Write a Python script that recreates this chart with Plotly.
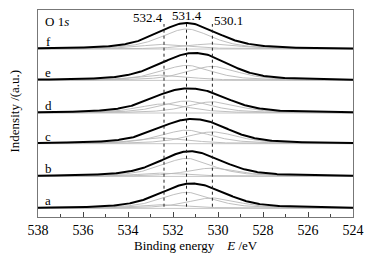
import numpy as np
import plotly.graph_objects as go

# ---- data ----
labels = ["a", "b", "c", "d", "e", "f"]
baselines = [8.6, 40.6, 73.3, 104.0, 136.6, 168.0]     # vertical offset of each spectrum (a.u.)
peak_centers = [532.4, 531.4, 530.25]                   # eV, component positions (dotted lines)
peak_labels = ["532.4", "531.4", "530.1"]
heights_a = [3.7, 16.0, 10.4]
heights_b = [3.3, 18.0, 8.3]
heights_c = [6.0, 13.5, 11.8]
heights_d = [9.1, 12.0, 11.2]
heights_e = [5.3, 15.0, 14.0]
heights_f = [4.6, 20.0, 5.2]
all_heights = [heights_a, heights_b, heights_c, heights_d, heights_e, heights_f]
peak_fwhm = 2.7      # eV, fitted component width
peak_eta = 0.6       # Lorentzian fraction of the fitted pseudo-Voigt shape
x_ticks = [538, 536, 534, 532, 530, 528, 526, 524]

FONT = "Liberation Serif"

def component(x, c, h):
    d = (x - c) / (peak_fwhm / 2)
    return h * (peak_eta / (1 + d**2) + (1 - peak_eta) * np.exp(-np.log(2) * d**2))

energy = np.linspace(524, 538, 421)

fig = go.Figure()
for lab, base, hts in zip(labels, baselines, all_heights):
    fig.add_trace(go.Scatter(x=[524, 538], y=[base, base], mode="lines",
                             line=dict(color="#c8c8c8", width=1), hoverinfo="skip"))
    total = np.zeros_like(energy)
    for c, h in zip(peak_centers, hts):
        comp = component(energy, c, h)
        total += comp
        fig.add_trace(go.Scatter(x=energy, y=base + comp, mode="lines",
                                 line=dict(color="#b8b8b8", width=0.9), hoverinfo="skip"))
    fig.add_trace(go.Scatter(x=energy, y=base + total, mode="lines",
                             line=dict(color="black", width=2), hoverinfo="skip"))
    fig.add_annotation(x=537.55, y=base + 7.5, text=lab, showarrow=False,
                       xanchor="center", yanchor="middle",
                       font=dict(family=FONT, size=13, color="black"))

for c in peak_centers:
    fig.add_shape(type="line", x0=c, x1=c, y0=10.3, y1=193, xref="x", yref="y",
                  line=dict(color="#222", width=1, dash="dot"))

fig.add_annotation(x=peak_centers[0], y=199.5, text=peak_labels[0], showarrow=False,
                   xanchor="right", yanchor="middle", xshift=1,
                   font=dict(family=FONT, size=13, color="black"))
fig.add_annotation(x=peak_centers[1], y=202, text=peak_labels[1], showarrow=False,
                   xanchor="center", yanchor="middle",
                   font=dict(family=FONT, size=13, color="black"))
fig.add_annotation(x=peak_centers[2], y=197, text=peak_labels[2], showarrow=False,
                   xanchor="left", yanchor="middle", xshift=0,
                   font=dict(family=FONT, size=13, color="black"))

fig.add_annotation(x=537.8, y=196, text="O 1<i>s</i>", showarrow=False,
                   xanchor="left", yanchor="middle",
                   font=dict(family=FONT, size=13, color="black"))

fig.add_annotation(xref="paper", yref="paper", x=0.503, y=-0.136,
                   text="Binding energy\u00a0\u00a0\u00a0\u00a0<i>E</i> /eV", showarrow=False,
                   xanchor="center", yanchor="middle",
                   font=dict(family=FONT, size=13, color="black"))
fig.add_annotation(xref="paper", yref="paper", x=-0.076, y=0.51,
                   text="Indensity /(a.u.)", showarrow=False, textangle=-90,
                   xanchor="center", yanchor="middle",
                   font=dict(family=FONT, size=13, color="black"))

fig.update_xaxes(range=[538, 524], tickvals=x_ticks, ticktext=[str(v) for v in x_ticks],
                 ticks="inside", ticklen=5, tickwidth=1, tickcolor="#444",
                 minor=dict(dtick=1, ticks="inside", ticklen=3, tickwidth=1, tickcolor="#444"),
                 showline=True, linecolor="#777", linewidth=1, mirror=True,
                 showgrid=False, zeroline=False,
                 tickfont=dict(family=FONT, size=14, color="black"))
fig.update_yaxes(range=[0, 207], showticklabels=False, ticks="",
                 showline=True, linecolor="#777", linewidth=1, mirror=True,
                 showgrid=False, zeroline=False)

fig.update_layout(width=379, height=256, margin=dict(l=38, r=26, t=10, b=39),
                  plot_bgcolor="white", paper_bgcolor="white", showlegend=False)

fig.write_html("out.html", config={"displayModeBar": False, "staticPlot": True},
               post_script="document.body.style.margin='0';document.body.style.overflow='hidden';")
